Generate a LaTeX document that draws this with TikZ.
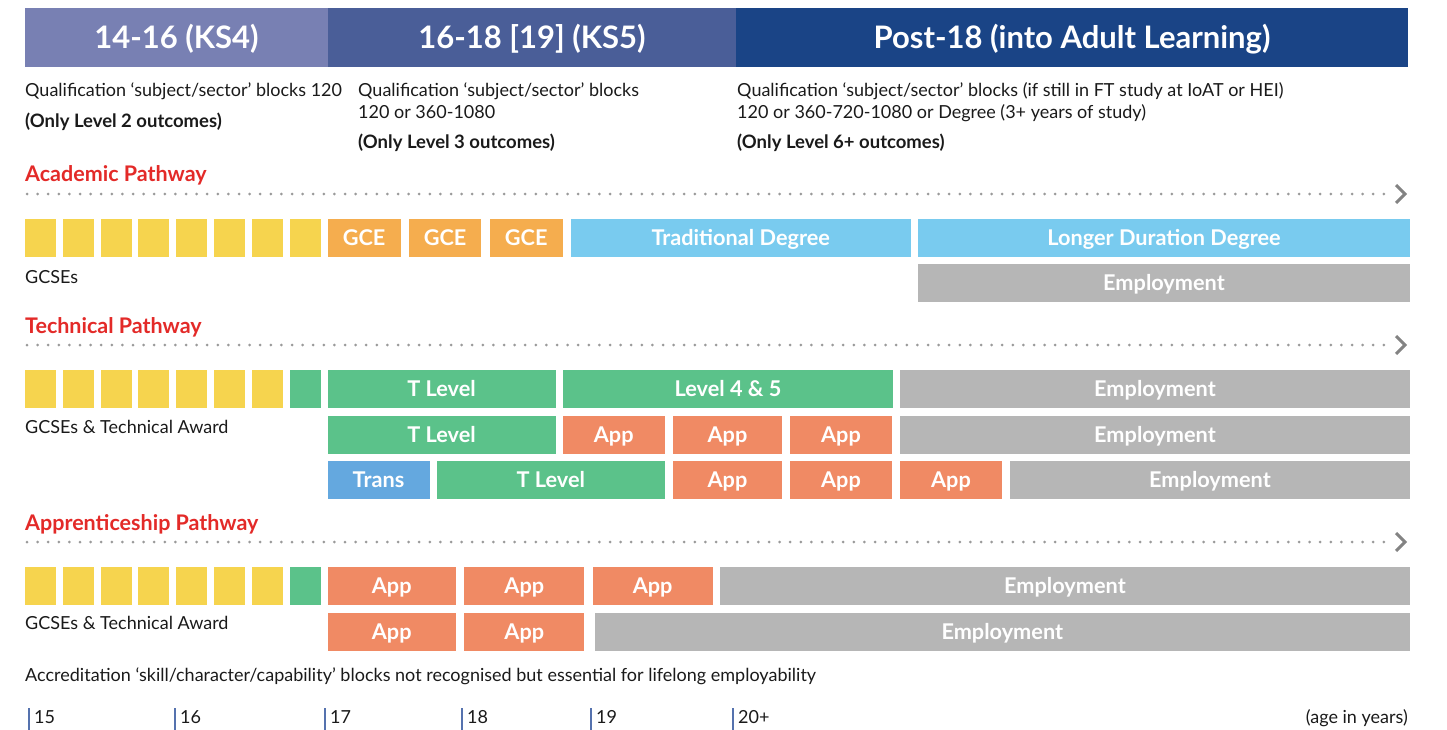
\documentclass[tikz,border=0pt]{standalone}
\usepackage{fontspec}
\setmainfont{Lato}
\definecolor{chd1}{HTML}{7880B3}
\definecolor{chd2}{HTML}{4A5E98}
\definecolor{chd3}{HTML}{1A4486}
\definecolor{cyel}{HTML}{F6D44E}
\definecolor{cgce}{HTML}{F5AD4E}
\definecolor{cdeg}{HTML}{79CBEF}
\definecolor{cemp}{HTML}{B6B6B6}
\definecolor{cgrn}{HTML}{5BC28A}
\definecolor{capp}{HTML}{F08A64}
\definecolor{ctrn}{HTML}{64A8DF}
\definecolor{cred}{HTML}{E32A28}
\definecolor{cdot}{HTML}{9A9A9A}
\definecolor{ctick}{HTML}{5572AE}
\definecolor{ctxt}{HTML}{1A1A1A}
\newcommand\blk[7]{\node[blk, fill=#6, minimum width={(#3-#2)*1pt}, minimum height={(#5-#4)*1pt}] (#1) at ({(#2+#3)/2},{(#4+#5)/2}) {#7};}
\begin{document}
\begin{tikzpicture}[x=1pt,y=-1pt,
  blk/.style={inner sep=0pt, outer sep=0pt, text=white, font=\bfseries\fontsize{21.7}{22}\selectfont, text height=18.4pt, text depth=2.4pt},
  hdr/.style={inner sep=0pt, outer sep=0pt, text=white, font=\bfseries\fontsize{31}{31}\selectfont, text height=24.6pt, text depth=3pt},
  lbl/.style={inner sep=0pt, anchor=base west, text=ctxt, font=\fontsize{18}{18}\selectfont},
  blbl/.style={lbl, font=\bfseries\fontsize{18.5}{18.5}\selectfont},
  ptitle/.style={inner sep=0pt, anchor=base west, text=cred, font=\bfseries\fontsize{21.5}{21.5}\selectfont},
  dotline/.style={draw=cdot, line width=3pt, line cap=round, dash pattern=on 0pt off 10.6pt},
  chev/.style={draw=cdot!85!black, line width=3pt},
  tick/.style={draw=ctick, line width=1.2pt}]
\useasboundingbox (0,0) rectangle (1447,730);
% header
\node[hdr, fill=chd1, minimum width=303pt, minimum height=59pt] (h1) at (176.5,37.5) {14-16 (KS4)};
\node[hdr, fill=chd2, minimum width=408pt, minimum height=59pt] (h2) at (532,37.5) {16-18 [19] (KS5)};
\node[hdr, fill=chd3, minimum width=672pt, minimum height=59pt] (h3) at (1072,37.5) {Post-18 (into Adult Learning)};
% qualification texts
\node[lbl] (q1a) at (25,97) {Qualification ‘subject/sector’ blocks 120};
\node[blbl] (q1b) at (25,128) {(Only Level 2 outcomes)};
\node[lbl] (q2a) at (358,97) {Qualification ‘subject/sector’ blocks};
\node[lbl] (q2b) at (358,119) {120 or 360-1080};
\node[blbl] (q2c) at (358,149) {(Only Level 3 outcomes)};
\node[lbl] (q3a) at (737,97) {Qualification ‘subject/sector’ blocks (if still in FT study at IoAT or HEI)};
\node[lbl] (q3b) at (737,119) {120 or 360-720-1080 or Degree (3+ years of study)};
\node[blbl] (q3c) at (737,149) {(Only Level 6+ outcomes)};
% Academic
\node[ptitle] (pa) at (25,182) {Academic Pathway};
\coordinate (as) at (27,194); \coordinate (ae) at (1390,194);
\draw[dotline] (as) -- (ae);
\draw[chev] (1396,185) -- (1405,194) -- (1396,203);
\foreach \i in {0,...,7}{\pgfmathsetmacro\xa{25+\i*37.83}\pgfmathsetmacro\xb{\xa+31}\blk{ay\i}{\xa}{\xb}{219}{256.5}{cyel}{}}
\blk{ag1}{327.5}{400.7}{219}{256.5}{cgce}{GCE}
\blk{ag2}{408.7}{481.4}{219}{256.5}{cgce}{GCE}
\blk{ag3}{489.9}{562.5}{219}{256.5}{cgce}{GCE}
\blk{atd}{571}{910.5}{219}{256.5}{cdeg}{Traditional Degree}
\blk{ald}{918}{1410}{219}{256.5}{cdeg}{Longer Duration Degree}
\blk{ae2}{918}{1410}{264}{301.5}{cemp}{Employment}
\node[lbl] (ag) at (25,283) {GCSEs};
% Technical
\node[ptitle] (pt) at (25,333) {Technical Pathway};
\coordinate (ts) at (27,345); \coordinate (te) at (1390,345);
\draw[dotline] (ts) -- (te);
\draw[chev] (1396,336) -- (1405,345) -- (1396,354);
\foreach \i in {0,...,6}{\pgfmathsetmacro\xa{25+\i*37.83}\pgfmathsetmacro\xb{\xa+31}\blk{ty\i}{\xa}{\xb}{370}{407.5}{cyel}{}}
\blk{tgr}{289.8}{320.6}{370}{407.5}{cgrn}{}
\blk{tt1}{327.5}{555.5}{370}{407.5}{cgrn}{T Level}
\blk{tl45}{563}{893}{370}{407.5}{cgrn}{Level 4 \& 5}
\blk{te1}{900}{1410}{370}{407.5}{cemp}{Employment}
\blk{tt2}{327.5}{555.5}{416}{453.5}{cgrn}{T Level}
\blk{ta21}{563}{664.5}{416}{453.5}{capp}{App}
\blk{ta22}{672.5}{782.4}{416}{453.5}{capp}{App}
\blk{ta23}{790}{892}{416}{453.5}{capp}{App}
\blk{te2}{900}{1410}{416}{453.5}{cemp}{Employment}
\blk{ttr}{327.5}{429.5}{461}{498.5}{ctrn}{Trans}
\blk{tt3}{437}{664.5}{461}{498.5}{cgrn}{T Level}
\blk{ta31}{672.5}{782.4}{461}{498.5}{capp}{App}
\blk{ta32}{790}{892}{461}{498.5}{capp}{App}
\blk{ta33}{900}{1002}{461}{498.5}{capp}{App}
\blk{te3}{1010}{1410}{461}{498.5}{cemp}{Employment}
\node[lbl] (tg) at (25,433) {GCSEs \& Technical Award};
% Apprenticeship
\node[ptitle] (pp) at (25,530) {Apprenticeship Pathway};
\coordinate (ps) at (27,542); \coordinate (pe) at (1390,542);
\draw[dotline] (ps) -- (pe);
\draw[chev] (1396,533) -- (1405,542) -- (1396,551);
\foreach \i in {0,...,6}{\pgfmathsetmacro\xa{25+\i*37.83}\pgfmathsetmacro\xb{\xa+31}\blk{py\i}{\xa}{\xb}{567}{604.5}{cyel}{}}
\blk{pgr}{289.8}{320.6}{567}{604.5}{cgrn}{}
\blk{pa11}{327.5}{456}{567}{604.5}{capp}{App}
\blk{pa12}{464.4}{584.2}{567}{604.5}{capp}{App}
\blk{pa13}{592.7}{712.6}{567}{604.5}{capp}{App}
\blk{pe1}{720}{1410}{567}{604.5}{cemp}{Employment}
\blk{pa21}{327.5}{456}{613}{650.5}{capp}{App}
\blk{pa22}{464.4}{584.2}{613}{650.5}{capp}{App}
\blk{pe2}{594.6}{1410}{613}{650.5}{cemp}{Employment}
\node[lbl] (pg) at (25,629) {GCSEs \& Technical Award};
\node[lbl] (acc) at (25,681) {Accreditation ‘skill/character/capability’ blocks not recognised but essential for lifelong employability};
% age axis
\foreach \x/\t [count=\k] in {29/15,175/16,325/17,462/18,591/19,733/20+}{
  \coordinate (tk\k a) at (\x,708); \coordinate (tk\k b) at (\x,730);
  \draw[tick] (tk\k a) -- (tk\k b);
  \node[lbl] (age\k) at (\x+5,723.5) {\t};
}
\node[lbl, anchor=base east] (ageu) at (1408,723.5) {(age in years)};
\end{tikzpicture}
\end{document}
